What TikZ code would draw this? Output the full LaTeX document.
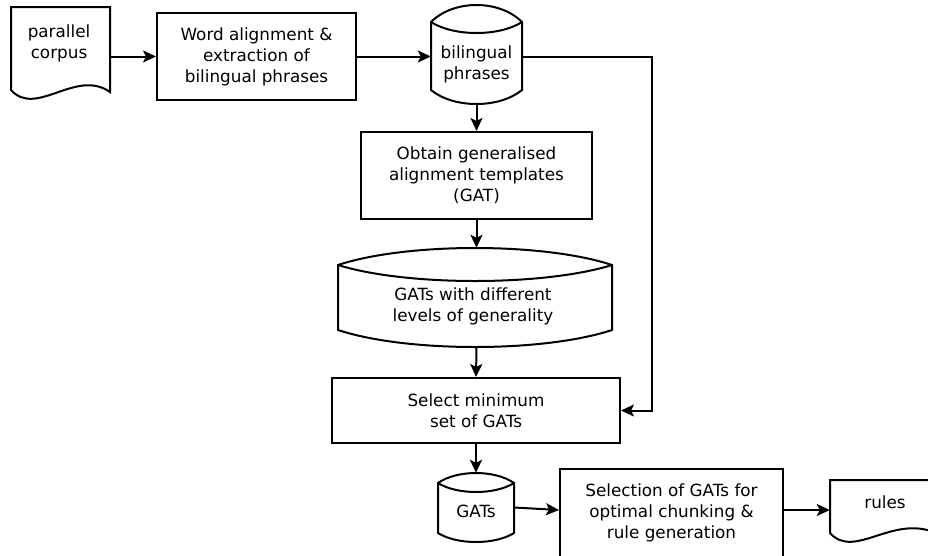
\documentclass[tikz,border=0pt]{standalone}
\usepackage{fontspec}
\setmainfont{DejaVu Sans}
\usetikzlibrary{arrows.meta,calc}

\newcommand\lblfont{\fontsize{16.8}{21}\selectfont}

% storage drum: xl, xr, top, cap corner, cap inner, side bottom, bottom
\newcommand\drumpath[7]{%
  \pgfmathsetmacro\dqa{#1+(#2-#1)/4}%
  \pgfmathsetmacro\dqb{#2-(#2-#1)/4}%
  \pgfmathsetmacro\dtop{#4-4/3*(#4-#3)}%
  \pgfmathsetmacro\din{#4+4/3*(#5-#4)}%
  \pgfmathsetmacro\dbot{#6+4/3*(#7-#6)}%
  \draw[outline] (#1,#4) .. controls (\dqa,\dtop) and (\dqb,\dtop) .. (#2,#4)
    -- (#2,#6) .. controls (\dqb,\dbot) and (\dqa,\dbot) .. (#1,#6) -- cycle;
  \draw[outline] (#1,#4) .. controls (\dqa,\din) and (\dqb,\din) .. (#2,#4);
}

\tikzset{
  outline/.style={line width=2pt, line join=miter},
  procbox/.style={draw, line width=2pt, rectangle, inner sep=0pt, align=center, font=\lblfont},
  shapeframe/.style={rectangle, inner sep=0pt, draw=none},
  lbl/.style={align=center, inner sep=0pt, font=\lblfont},
  flow/.style={line width=2pt, -{Stealth[length=13pt,width=12pt,inset=3pt]}},
}

\begin{document}
\begin{tikzpicture}[x=1pt, y=-1pt]
\useasboundingbox (0,0) rectangle (928,555);
\fill[white] (0,0) rectangle (928,555);
\clip (0,0) rectangle (928,555);

% parallel corpus (document)
\draw[outline] (11,7) -- (11,90) .. controls (36,118) and (76,68) .. (110,92) -- (110,7) -- cycle;
\node[shapeframe, minimum width=99pt, minimum height=83pt] (corpus) at (60.5,48.5) {};
\node[lbl] (corpus-t) at (59,43) {parallel\\corpus};

% word alignment
\node[procbox, minimum width=199pt, minimum height=87pt] (align) at (256.5,56.5)
  {Word alignment \&\\extraction of\\bilingual phrases};

% bilingual phrases (drum)
\drumpath{431}{522}{5}{22}{33}{90}{104}
\node[shapeframe, minimum width=91pt, minimum height=99pt] (bil) at (476.5,54.5) {};
\node[lbl] (bil-t) at (476.5,64.5) {bilingual\\phrases};

% obtain GATs
\node[procbox, minimum width=231pt, minimum height=87pt] (obtain) at (476.5,175.5)
  {Obtain generalised\\alignment templates\\(GAT)};

% GATs with different levels of generality (drum)
\drumpath{338}{612}{248}{265}{281}{330}{347}
\node[shapeframe, minimum width=274pt, minimum height=99pt] (levels) at (475,297.5) {};
\node[lbl] (levels-t) at (473,306.5) {GATs with different\\levels of generality};

% select minimum set
\node[procbox, minimum width=288pt, minimum height=65pt] (select) at (476,410.5)
  {Select minimum\\set of GATs};

% GATs (drum)
\drumpath{438}{514}{473}{483}{492}{533}{542}
\node[shapeframe, minimum width=76pt, minimum height=69pt] (gats) at (476,507.5) {};
\node[lbl] (gats-t) at (476,511) {GATs};

% selection for chunking (runs past the lower edge)
\node[procbox, minimum width=223pt, minimum height=95pt] (chunk) at (671.5,516.5) {};
\node[lbl] (chunk-t) at (671.5,512.5)
  {Selection of GATs for\\optimal chunking \&\\rule generation};

% rules (document, runs past the right edge)
\draw[outline] (830,480) -- (830,533) .. controls (855,561) and (895,511) .. (940,535) -- (940,480) -- cycle;
\node[shapeframe, minimum width=110pt, minimum height=53pt] (rules) at (885,506.5) {};
\node[lbl] (rules-t) at (885,502) {rules};

% connectors
\coordinate (fbk) at (652,0);
\coordinate (chunkin) at ($(chunk.north west)+(0,42)$);
\draw[flow] (corpus.east |- align.west) -- (align.west);
\draw[flow] (align.east) -- (bil.west |- align.east);
\draw[flow] (bil.south) -- (obtain.north);
\draw[flow] (obtain.south) -- (obtain.south |- levels.north);
\draw[flow] (obtain.south |- levels.south) -- (select.north);
\draw[flow] (bil.east |- align.east) -| (fbk |- select.east) -- (select.east);
\draw[flow] (select.south) -- (gats.north);
\draw[flow] (gats.east) -- (chunkin);
\draw[flow] (chunk.east |- chunkin) -- (rules.west |- chunkin);
\end{tikzpicture}
\end{document}
